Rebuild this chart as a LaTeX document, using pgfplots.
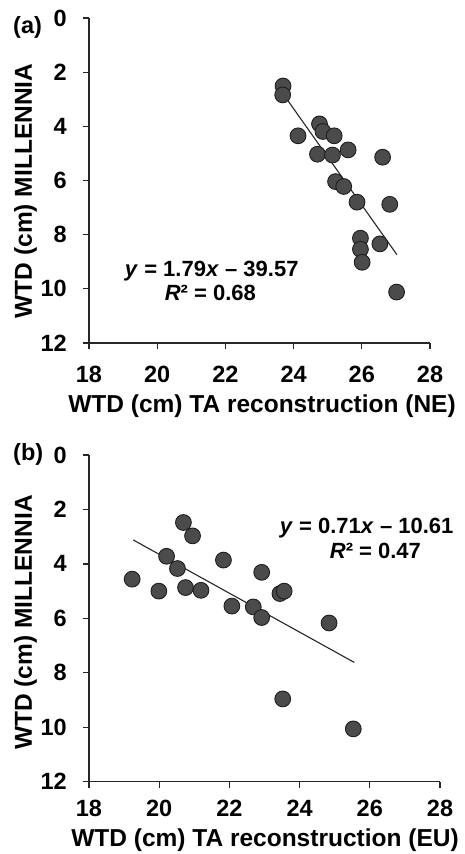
\documentclass[border=0pt]{standalone}
\usepackage{fontspec}
\setmainfont{Liberation Sans}
\usepackage{pgfplots}
\pgfplotsset{compat=1.18}

\definecolor{dotfill}{HTML}{4B4B4B}
\definecolor{dotedge}{HTML}{1E1E1E}
\definecolor{axisgray}{HTML}{262626}

\newcommand{\tickfont}{\fontsize{23.5}{23.5}\selectfont\bfseries}
\newcommand{\xlabfont}{\fontsize{24.5}{24.5}\selectfont\bfseries}
\newcommand{\ylabfont}{\fontsize{24.5}{24.5}\selectfont\bfseries}
\newcommand{\eqfont}{\fontsize{22}{22}\selectfont\bfseries}
\newcommand{\panelfont}{\fontsize{23.5}{23.5}\selectfont\bfseries}

\pgfplotsset{
  wtd/.style={
    scale only axis,
    y dir=reverse,
    xmin=18, xmax=28, ymin=0, ymax=12,
    xtick={18,20,22,24,26,28},
    ytick={0,2,4,6,8,10,12},
    axis x line*=bottom, axis y line*=left,
    xtick pos=left, xticklabel pos=left,
    ytick pos=left, yticklabel pos=left,
    tick align=outside,
    major tick length=6pt,
    axis line style={axisgray, line width=1.3pt},
    every tick/.style={axisgray, line width=1.3pt},
    tick label style={font=\tickfont},
    yticklabel style={anchor=east, inner sep=0pt, xshift=-16pt},
    /pgf/number format/assume math mode=true,
    clip=false,
  },
  dots/.style={only marks, mark=*, mark size=7.9pt,
    mark options={fill=dotfill, draw=dotedge, line width=0.9pt}},
  fit/.style={no marks, line width=1.1pt, color=axisgray},
}
\tikzset{
  eqtop/.style={anchor=base, inner sep=0pt, text depth=0pt, font=\eqfont},
  eqbot/.style={anchor=base, inner sep=0pt, text height=12pt, font=\eqfont},
}

\begin{document}
\begin{tikzpicture}

% (a) NE
\begin{axis}[wtd,
  at={(259.5pt,673.5pt)}, anchor=center,
  width=341pt, height=325pt,
  xticklabel style={anchor=north, inner sep=0pt, yshift=-17pt},
]
\addplot+[dots] coordinates {
  (23.69,2.51) (23.68,2.84) (24.76,3.91) (24.86,4.19) (24.13,4.35)
  (25.19,4.35) (25.60,4.87) (24.70,5.03) (25.14,5.06) (26.61,5.14)
  (25.23,6.04) (25.47,6.22) (25.86,6.80) (26.82,6.88) (25.96,8.13)
  (26.53,8.34) (25.96,8.54) (26.01,9.02) (27.02,10.12)
};
\addplot[fit] coordinates {(23.68,2.78) (27.03,8.74)};
\node[eqtop] at (axis cs:21.6,9.55) {\textit{y} = 1.79\textit{x} – 39.57};
\node[eqbot] at (axis cs:21.56,10.42) {\textit{R}² = 0.68};
\end{axis}

% (b) EU
\begin{axis}[wtd,
  at={(264.5pt,235.65pt)}, anchor=center,
  width=351pt, height=326.7pt,
  xticklabel style={anchor=north, inner sep=0pt, yshift=-12pt},
]
\addplot+[dots] coordinates {
  (20.69,2.48) (20.95,2.97) (20.21,3.72) (21.83,3.86) (20.52,4.17)
  (22.92,4.31) (19.23,4.56) (20.75,4.87) (19.99,5.00) (21.19,4.97)
  (23.44,5.09) (23.56,5.00) (22.07,5.55) (22.68,5.58) (22.92,5.97)
  (24.84,6.17) (23.52,8.96) (25.53,10.06)
};
\addplot[fit] coordinates {(19.26,3.12) (25.56,7.62)};
\node[eqtop] at (axis cs:25.91,2.89) {\textit{y} = 0.71\textit{x} – 10.61};
\node[eqbot] at (axis cs:26.16,3.79) {\textit{R}² = 0.47};
\end{axis}

% axis titles and panel letters
\node[anchor=base, font=\xlabfont] at (262pt,441pt) {WTD (cm) TA reconstruction (NE)};
\node[anchor=base, font=\xlabfont] at (265pt,8pt) {WTD (cm) TA reconstruction (EU)};
\node[anchor=base, rotate=90, font=\ylabfont] at (32pt,663pt) {WTD (cm) MILLENNIA};
\node[anchor=base, rotate=90, font=\ylabfont] at (32pt,231.5pt) {WTD (cm) MILLENNIA};
\node[anchor=base west, inner sep=0pt, font=\panelfont] at (13pt,820pt) {(a)};
\node[anchor=base west, inner sep=0pt, font=\panelfont] at (13pt,393pt) {(b)};

\pgfresetboundingbox
\path[use as bounding box] (0,0) rectangle (465pt,854pt);
\end{tikzpicture}
\end{document}
